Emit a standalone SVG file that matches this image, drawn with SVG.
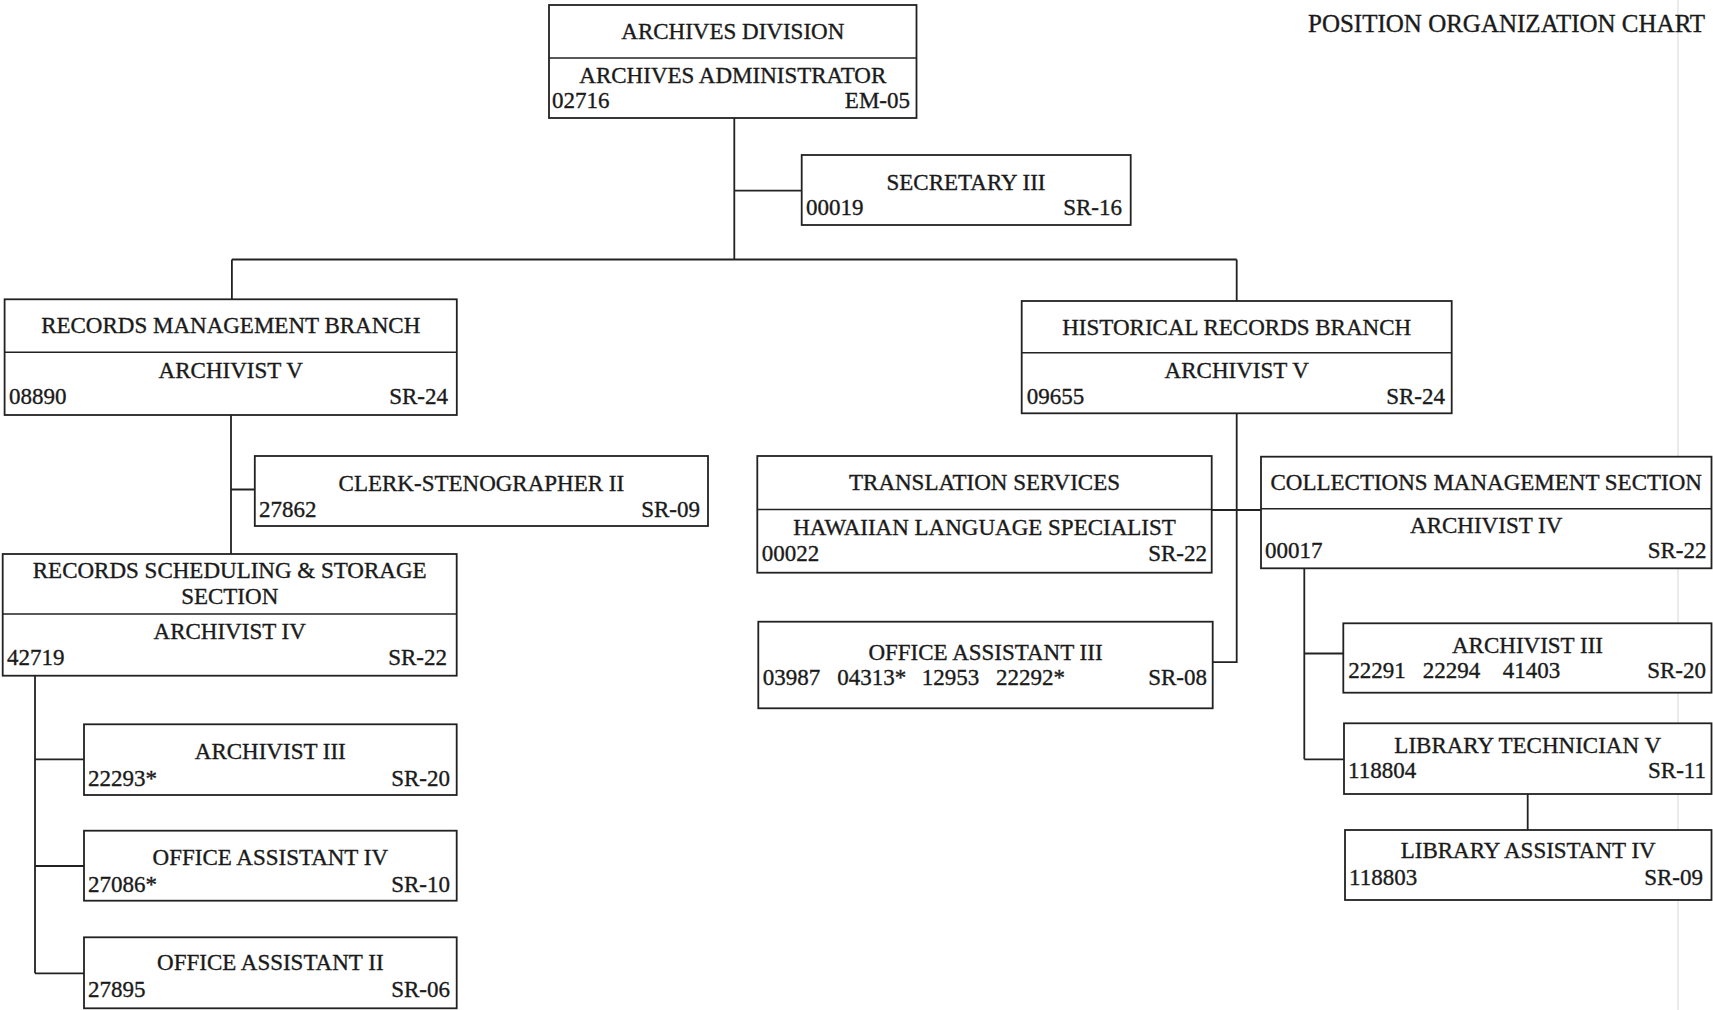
<svg xmlns="http://www.w3.org/2000/svg" width="1713" height="1010" viewBox="0 0 1713 1010">
<style>
.box{fill:#fff;stroke:#222;stroke-width:1.8}
.div{stroke:#222;stroke-width:1.6}
.t{font-family:"Liberation Serif","Times New Roman",serif;font-size:23px;fill:#1a1a1a;stroke:#1a1a1a;stroke-width:0.35}
.c{text-anchor:middle}
.r{text-anchor:end}
.conn{fill:none;stroke:#222;stroke-width:1.8}
</style>
<rect width="1713" height="1010" fill="#fff"/>
<line x1="1678" y1="0" x2="1678" y2="1010" stroke="#d6d6d6" stroke-width="1"/>
<text class="t" x="1308" y="31.5" style="font-size:25px">POSITION ORGANIZATION CHART</text>

<g id="connectors">
<path class="conn" d="M734.3 118V259.5M734.3 190.7H801.7M231.9 259.5H1236.7M231.9 259.5V299.3M1236.7 259.5V301"/>
<path class="conn" d="M231 415V554M231 489.5H254.8"/>
<path class="conn" d="M35 675.7V973.3M35 759.3H84M35 866H84M35 973.3H84"/>
<path class="conn" d="M1236.7 413.3V662.2H1212.7M1211.7 510H1261"/>
<path class="conn" d="M1304.3 568.3V759.3M1304.3 653.5H1343.3M1304.3 759.3H1344M1527.7 794V830"/>
</g>

<g id="archives-division">
<rect class="box" x="549" y="5" width="367.5" height="113"/>
<line class="div" x1="549" y1="58" x2="916.5" y2="58"/>
<text class="t c" x="732.8" y="39">ARCHIVES DIVISION</text>
<text class="t c" x="732.8" y="83">ARCHIVES ADMINISTRATOR</text>
<text class="t" x="552" y="108">02716</text>
<text class="t r" x="910" y="108">EM-05</text>
</g>

<g id="secretary-iii">
<rect class="box" x="801.7" y="155" width="329" height="70"/>
<text class="t c" x="966" y="190">SECRETARY III</text>
<text class="t" x="806" y="215">00019</text>
<text class="t r" x="1122" y="215">SR-16</text>
</g>

<g id="records-management-branch">
<rect class="box" x="4.6" y="299.3" width="452.2" height="115.7"/>
<line class="div" x1="4.6" y1="352.3" x2="456.8" y2="352.3"/>
<text class="t c" x="230.7" y="333">RECORDS MANAGEMENT BRANCH</text>
<text class="t c" x="230.7" y="378">ARCHIVIST V</text>
<text class="t" x="9" y="404">08890</text>
<text class="t r" x="448" y="404">SR-24</text>
</g>

<g id="clerk-stenographer-ii">
<rect class="box" x="254.8" y="456" width="453.2" height="70"/>
<text class="t c" x="481.4" y="491">CLERK-STENOGRAPHER II</text>
<text class="t" x="259" y="517">27862</text>
<text class="t r" x="700" y="517">SR-09</text>
</g>

<g id="records-scheduling-storage-section">
<rect class="box" x="2.7" y="554" width="454" height="121.7"/>
<line class="div" x1="2.7" y1="614" x2="456.7" y2="614"/>
<text class="t c" x="229.7" y="578.3">RECORDS SCHEDULING &amp; STORAGE</text>
<text class="t c" x="229.7" y="604">SECTION</text>
<text class="t c" x="229.7" y="639">ARCHIVIST IV</text>
<text class="t" x="7" y="665">42719</text>
<text class="t r" x="447" y="665">SR-22</text>
</g>

<g id="archivist-iii-rs">
<rect class="box" x="84" y="724.3" width="372.7" height="70.7"/>
<text class="t c" x="270.3" y="759">ARCHIVIST III</text>
<text class="t" x="88" y="786">22293*</text>
<text class="t r" x="450" y="786">SR-20</text>
</g>

<g id="office-assistant-iv">
<rect class="box" x="84" y="830.7" width="372.7" height="70"/>
<text class="t c" x="270.3" y="865">OFFICE ASSISTANT IV</text>
<text class="t" x="88" y="892">27086*</text>
<text class="t r" x="450" y="892">SR-10</text>
</g>

<g id="office-assistant-ii">
<rect class="box" x="84" y="937.3" width="372.7" height="71"/>
<text class="t c" x="270.3" y="970">OFFICE ASSISTANT II</text>
<text class="t" x="88" y="997">27895</text>
<text class="t r" x="450" y="997">SR-06</text>
</g>

<g id="historical-records-branch">
<rect class="box" x="1021.7" y="301" width="430" height="112.3"/>
<line class="div" x1="1021.7" y1="352.7" x2="1451.7" y2="352.7"/>
<text class="t c" x="1236.7" y="335">HISTORICAL RECORDS BRANCH</text>
<text class="t c" x="1236.7" y="378">ARCHIVIST V</text>
<text class="t" x="1026.7" y="404">09655</text>
<text class="t r" x="1445" y="404">SR-24</text>
</g>

<g id="translation-services">
<rect class="box" x="757.3" y="456" width="454.4" height="116.7"/>
<line class="div" x1="757.3" y1="509.5" x2="1211.7" y2="509.5"/>
<text class="t c" x="984.5" y="490">TRANSLATION SERVICES</text>
<text class="t c" x="984.5" y="535">HAWAIIAN LANGUAGE SPECIALIST</text>
<text class="t" x="761.7" y="561">00022</text>
<text class="t r" x="1207" y="561">SR-22</text>
</g>

<g id="office-assistant-iii">
<rect class="box" x="758.3" y="621.7" width="454.4" height="86.6"/>
<text class="t c" x="985.5" y="660">OFFICE ASSISTANT III</text>
<text class="t" x="762.7" y="685">03987</text>
<text class="t" x="837.3" y="685">04313*</text>
<text class="t" x="921.7" y="685">12953</text>
<text class="t" x="996" y="685">22292*</text>
<text class="t r" x="1207" y="685">SR-08</text>
</g>

<g id="collections-management-section">
<rect class="box" x="1261" y="456.7" width="450.5" height="111.6"/>
<line class="div" x1="1261" y1="508.8" x2="1711.5" y2="508.8"/>
<text class="t c" x="1486.2" y="490">COLLECTIONS MANAGEMENT SECTION</text>
<text class="t c" x="1486.2" y="532.7">ARCHIVIST IV</text>
<text class="t" x="1265" y="558">00017</text>
<text class="t r" x="1706.5" y="558">SR-22</text>
</g>

<g id="archivist-iii-cm">
<rect class="box" x="1343.3" y="623.3" width="368.2" height="69.4"/>
<text class="t c" x="1527.5" y="652.7">ARCHIVIST III</text>
<text class="t" x="1348.3" y="678.3">22291</text>
<text class="t" x="1422.7" y="678.3">22294</text>
<text class="t" x="1502.7" y="678.3">41403</text>
<text class="t r" x="1706" y="678.3">SR-20</text>
</g>

<g id="library-technician-v">
<rect class="box" x="1344" y="723.3" width="367.5" height="70.7"/>
<text class="t c" x="1527.7" y="753.3">LIBRARY TECHNICIAN V</text>
<text class="t" x="1348" y="778.3">118804</text>
<text class="t r" x="1706" y="778.3">SR-11</text>
</g>

<g id="library-assistant-iv">
<rect class="box" x="1345" y="830" width="366.5" height="70"/>
<text class="t c" x="1528.2" y="858.3">LIBRARY ASSISTANT IV</text>
<text class="t" x="1349" y="885">118803</text>
<text class="t r" x="1703" y="885">SR-09</text>
</g>
</svg>
